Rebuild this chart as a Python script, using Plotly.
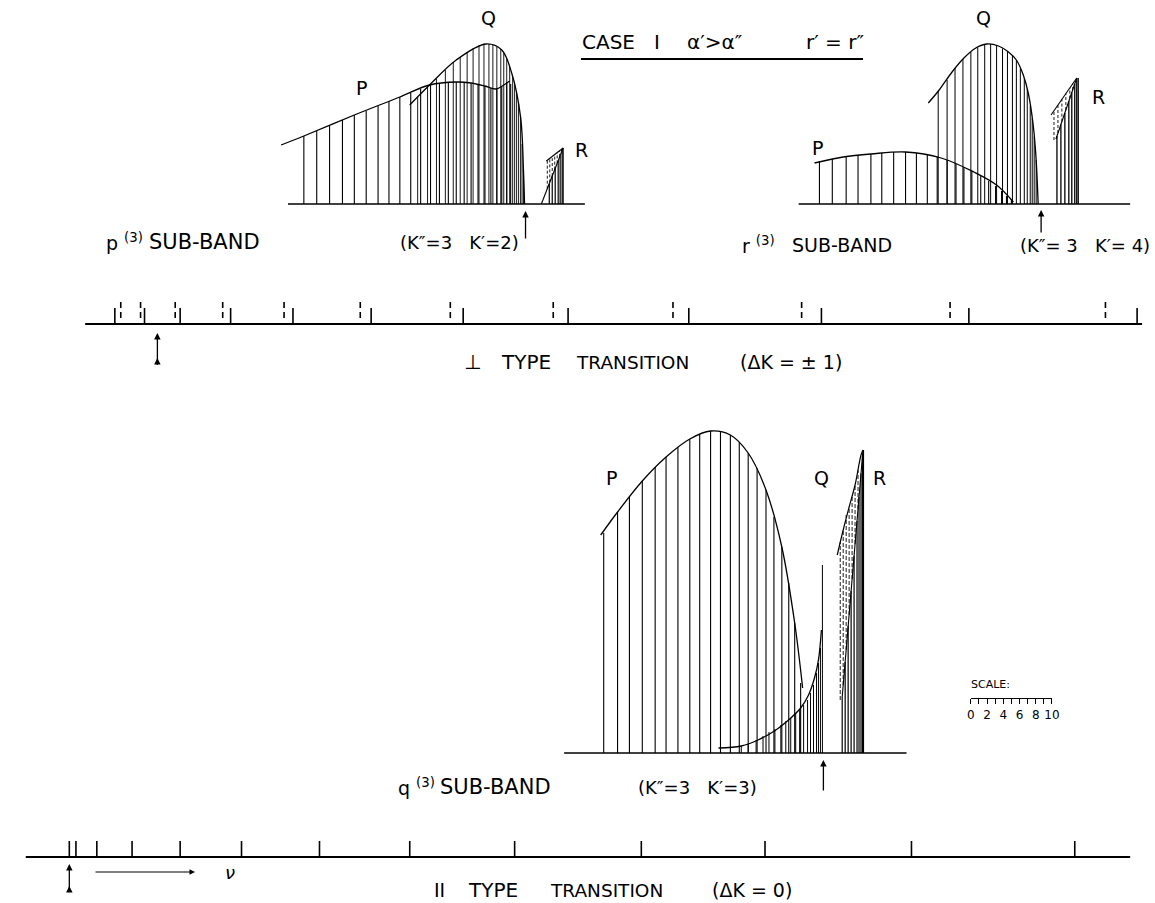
import plotly.graph_objects as go

W, H = 1155, 903
FONT = "DejaVu Sans"

# ---------------- DATA (x = offset from band origin, h = intensity) ----------------
# p(3) sub-band  (K''=3, K'=2)
p3_P_x = [-224, -211, -198, -185, -173, -161, -149, -138, -127, -116, -106, -96, -87, -78,
          -70, -62, -55, -48, -41, -35, -29, -24, -19, -15]
p3_P_h = [68, 73, 79, 84, 89, 93, 98, 103, 107, 111, 115, 119, 120, 121, 122, 122, 121, 120,
          118, 116, 115, 118, 122, 120]
p3_Penv_x = [-247, -224, -173, -127, -97, -70, -55, -41, -30, -22, -16]
p3_Penv_h = [59, 68, 89, 107, 119, 122, 121, 118, 115, 119, 123]
p3_Q_x = [-109, -99, -90, -81, -73, -66, -59, -53, -47, -42, -37, -33, -29, -25, -22, -19,
          -16, -13, -11, -9, -7, -5, -3.5, -2]
p3_Q_h = [107, 117, 125, 134, 142, 147, 152, 156, 159, 160, 160, 159, 157, 155, 151, 145,
          137, 127, 120, 111, 100, 87, 60, 35]
p3_Qenv_x = [-117, -97, -70, -40, -24, -14, -5, -2, -1]
p3_Qenv_h = [99, 119, 144, 160, 154, 131, 87, 31, 0]
p3_R_x = [24, 27, 30, 33, 35, 37, 38]
p3_R_h = [20, 28, 36, 43, 48, 53.5, 56]
p3_Rd_x = [22, 24.5, 27, 29.5, 32, 34.5, 36.5]
p3_Rd_top = [43.8, 45.7, 47.6, 49.5, 51.4, 53.3, 54.9]
p3_Rd_bot = [15.3, 21.6, 28, 34.4, 40.7, 47.1, 52.2]
p3_Rlow_x, p3_Rlow_h = [16, 38], [0, 56]
p3_Rtop_x, p3_Rtop_h = [21, 38], [43, 56]
p3_base = [-240, 60]

# r(3) sub-band  (K''=3, K'=4)
r3_P_x = [-224, -211, -197, -185, -172, -161, -149, -137, -126, -115, -105, -95, -86, -78,
          -70, -61, -53, -46, -40, -35, -30]
r3_P_h = [43, 45, 47, 49, 50, 51, 52, 52, 51, 50, 47.5, 44, 40, 37, 33, 28, 23, 18, 13, 8, 4]
r3_Penv_x = [-229, -200, -172, -137, -101, -68, -45, -28]
r3_Penv_h = [41, 47, 50, 52, 46, 32, 19, 2]
r3_Q_x = [-104, -95, -87, -79, -71, -64, -57, -51, -45, -39, -34, -29, -25, -21, -17, -14,
          -11, -9, -7, -5]
r3_Q_h = [113, 124, 136, 145, 152, 156.5, 159.5, 160, 158.5, 155.5, 152.5, 148, 144, 135.5,
          125.5, 115, 98, 85.5, 67.5, 44]
r3_Qenv_x = [-114, -103, -90, -78, -66, -55, -43, -33, -25, -18, -13, -8, -5, -3]
r3_Qenv_h = [101, 114, 132, 146, 156, 160, 158, 152, 144, 129, 111, 79, 44, 0]
r3_R_x = [16, 20, 24, 28, 31, 34, 36, 37.5]
r3_R_h = [68, 79.5, 91, 103, 111.5, 120, 126, 126]
r3_Rd_x = [13, 17, 21, 25, 29, 32]
r3_Rd_top = [93.3, 99, 104.7, 110.3, 116, 120.3]
r3_Rd_bot = [64, 71, 82.4, 94, 105.4, 114]
r3_Rlow_x, r3_Rlow_h = [15, 36], [65, 126]
r3_Rtop_x, r3_Rtop_h = [10, 36], [89, 126]
r3_base = [-245, 90]

# q(3) sub-band  (K''=3, K'=3)
q3_P_x = [-222, -208, -196, -183, -170, -159, -147, -135, -125, -114, -104, -94, -85, -76,
          -67, -58, -50, -42, -35, -29, -23]
q3_P_h = [220, 241, 256, 272, 286, 296, 306, 314, 319, 322, 321, 318, 311, 300, 285, 263,
          236, 206, 170, 130, 70]
q3_Penv_x = [-225, -208, -183, -159, -135, -114, -94, -76, -58, -42, -29, -21]
q3_Penv_h = [218, 241, 272, 296, 314, 322, 318, 300, 263, 206, 130, 65]
q3_Q_x = [-83, -76, -68, -61, -55, -49, -43, -38, -33, -28, -24, -20, -16, -13, -10, -7,
          -5, -3, -1]
q3_Q_h = [7, 9, 13, 17, 21, 24, 28, 32, 35, 40, 44, 48, 53, 60, 68, 80, 90, 105, 188]
q3_Qenv_x = [-106, -83, -66, -48, -33, -23, -15, -9, -5, -2]
q3_Qenv_h = [5, 7, 13, 23, 35, 45, 58, 75, 93, 123]
q3_R_x = [19, 22, 25, 28, 31, 34, 36, 38, 39.5, 40.5]
q3_R_h = [56, 91, 127, 162, 197, 232, 256, 279.5, 297, 303]
q3_Rd_x = [17, 20, 23, 26, 29, 32, 35]
q3_Rd_top = [211, 223, 238, 246, 257, 268, 283]
q3_Rd_bot = [53, 68, 103, 138, 174, 209, 244]
q3_Rtop_x = [14, 20, 26, 32, 38, 40]
q3_Rtop_h = [198, 223, 246, 268, 298, 303]
q3_Rlow_x, q3_Rlow_h = [19, 40], [56, 303]
q3_base = [-262, 84]

# perpendicular-type transition: sub-band origins (solid) and dashed companions
perp_solid = [-43, -13, 23, 74, 137, 216, 309, 415, 537, 671, 820, 990]
perp_dashed = [-37, -17, 18, 66, 128, 205, 296, 400, 521, 651, 801, 958]
perp_base = [-73, 995]
# parallel-type transition: sub-band origins
par_ticks = [0, 6.7, 27.8, 63.4, 112, 174, 252.8, 344, 450, 578, 703, 851, 1016]
par_base = [-44, 1072]

# scale ruler
scale_ticks = list(range(0, 11))
scale_labels = ["0", "", "2", "", "4", "", "6", "", "8", "", "10"]

# ---------------- LAYOUT CONSTANTS ----------------
panels = {  # axis index: (pixel x of band origin, pixel y of baseline)
    1: (527, 204),   # p(3)
    2: (1048, 204),  # r(3)
    3: (828, 753),   # q(3)
    4: (155, 324),   # perpendicular transition axis
    5: (66, 857),    # parallel transition axis
}

fig = go.Figure()


def ax(i):
    return ("x" if i == 1 else f"x{i}"), ("y" if i == 1 else f"y{i}")


def add_line(i, xs, ys, width=1.0, dash=None, shape="linear"):
    xa, ya = ax(i)
    fig.add_trace(go.Scatter(x=xs, y=ys, xaxis=xa, yaxis=ya, mode="lines",
                             line=dict(color="black", width=width, dash=dash, shape=shape,
                                       smoothing=1.0),
                             hoverinfo="skip", showlegend=False))


def add_sticks(i, xs, tops, bots=None, width=1.0, dash=None):
    X, Y = [], []
    for k, x in enumerate(xs):
        b = 0 if bots is None else bots[k]
        X += [x, x, None]
        Y += [b, tops[k], None]
    add_line(i, X, Y, width=width, dash=dash)


# p(3)
add_line(1, p3_base, [0, 0], width=1.6)
add_sticks(1, p3_P_x, p3_P_h, width=1.1)
add_sticks(1, p3_Q_x, p3_Q_h, width=0.9)
add_line(1, p3_Penv_x, p3_Penv_h, width=1.3, shape="spline")
add_line(1, p3_Qenv_x, p3_Qenv_h, width=1.3, shape="spline")
add_sticks(1, p3_R_x, p3_R_h, width=1.2)
add_sticks(1, p3_Rd_x, p3_Rd_top, p3_Rd_bot, width=0.9, dash="3px,2px")
add_line(1, p3_Rlow_x, p3_Rlow_h, width=1.1)
add_line(1, p3_Rtop_x, p3_Rtop_h, width=1.1)

# r(3)
add_line(2, r3_base, [0, 0], width=1.6)
add_sticks(2, r3_P_x, r3_P_h, width=1.1)
add_sticks(2, r3_Q_x, r3_Q_h, width=1.0)
add_line(2, r3_Penv_x, r3_Penv_h, width=1.3, shape="spline")
add_line(2, r3_Qenv_x, r3_Qenv_h, width=1.3, shape="spline")
add_sticks(2, r3_R_x, r3_R_h, width=1.3)
add_sticks(2, r3_Rd_x, r3_Rd_top, r3_Rd_bot, width=0.9, dash="3px,2px")
add_line(2, r3_Rlow_x, r3_Rlow_h, width=1.1)
add_line(2, r3_Rtop_x, r3_Rtop_h, width=1.1)

# q(3)
add_line(3, q3_base, [0, 0], width=1.6)
add_sticks(3, q3_P_x, q3_P_h, width=1.1)
add_sticks(3, q3_Q_x, q3_Q_h, width=1.0)
add_line(3, q3_Penv_x, q3_Penv_h, width=1.3, shape="spline")
add_line(3, q3_Qenv_x, q3_Qenv_h, width=1.3, shape="spline")
add_sticks(3, q3_R_x, q3_R_h, width=1.2)
add_sticks(3, q3_Rd_x, q3_Rd_top, q3_Rd_bot, width=0.9, dash="4px,2px")
add_line(3, q3_Rtop_x, q3_Rtop_h, width=1.2, shape="spline")
add_line(3, q3_Rlow_x, q3_Rlow_h, width=1.1)

# perpendicular axis
add_line(4, perp_base, [0, 0], width=2.0)
add_sticks(4, perp_solid, [16] * len(perp_solid), width=1.6)
add_sticks(4, perp_dashed, [24] * len(perp_dashed), [6] * len(perp_dashed), width=1.6,
           dash="6px,4px")

# parallel axis
add_line(5, par_base, [0, 0], width=2.0)
add_sticks(5, par_ticks, [16] * len(par_ticks), width=1.6)

# scale ruler axis (index 6)
fig.add_trace(go.Scatter(x=[0, 10], y=[0, 0], xaxis="x6", yaxis="y6", mode="lines",
                         line=dict(color="rgba(0,0,0,0)"), hoverinfo="skip",
                         showlegend=False))

layout_axes = {}
for i, (x0, base) in panels.items():
    xa = "xaxis" if i == 1 else f"xaxis{i}"
    ya = "yaxis" if i == 1 else f"yaxis{i}"
    layout_axes[xa] = dict(domain=[0, 1], range=[-x0, W - x0], visible=False,
                           anchor=ax(i)[1], fixedrange=True)
    layout_axes[ya] = dict(domain=[0, 1], range=[base - H, base], visible=False,
                           anchor=ax(i)[0], fixedrange=True)

layout_axes["xaxis6"] = dict(domain=[977 / W, 1059 / W], range=[0, 10], anchor="y6",
                             showline=True, linecolor="black", linewidth=1.2,
                             ticks="outside", ticklen=5, tickwidth=1, tickcolor="black",
                             tickvals=scale_ticks, ticktext=scale_labels,
                             tickfont=dict(family=FONT, size=12, color="black"),
                             showgrid=False, zeroline=False, fixedrange=True)
layout_axes["yaxis6"] = dict(domain=[(H - 698) / H, (H - 690) / H], range=[0, 1],
                             visible=False, anchor="x6", fixedrange=True)

# ---------------- TEXT / ANNOTATIONS ----------------
ann = []


def label(text, x, y, size=18, xanchor="center"):
    ann.append(dict(text=text, x=x / W, y=1 - y / H, xref="paper", yref="paper",
                    showarrow=False, xanchor=xanchor, yanchor="middle",
                    font=dict(family=FONT, size=size, color="black")))


def arrow(x, y_tail, y_head, width=1.3, head=2, x_tail=None):
    xt = x if x_tail is None else x_tail
    ann.append(dict(text="", x=x / W, y=1 - y_head / H, ax=xt - x, ay=y_tail - y_head,
                    xref="paper", yref="paper", font=dict(size=10),
                    showarrow=True, arrowhead=head, arrowsize=1, arrowwidth=width,
                    arrowcolor="black"))


# title
label("CASE   I", 623, 42, 20)
label("α′>α″", 718, 42, 20)
label("r′ = r″", 840, 42, 20)

# p(3) panel
label("P", 361, 88, 19)
label("Q", 490, 18, 19)
label("R", 584, 150, 19)
label("p <sup>(3)</sup>", 101, 242, 19, "left")
label("SUB-BAND", 203, 242, 21)
label("(K″=3   K′=2)", 460, 242, 18)
arrow(527, 240, 211)

# r(3) panel
label("P", 822, 148, 19)
label("Q", 990, 18, 19)
label("R", 1106, 97, 19)
label("r <sup>(3)</sup>", 744, 245, 19, "left")
label("SUB-BAND", 847, 245, 19)
label("(K″= 3   K′= 4)", 1092, 245, 18)
arrow(1048, 234, 210)

# perpendicular transition
label("⊥", 473, 362, 20)
label("TYPE", 527, 362, 20)
label("TRANSITION", 635, 362, 18.5)
label("(ΔK = ± 1)", 795, 362, 19)
arrow(155, 366, 333)
arrow(155, 366, 358)

# q(3) panel
label("P", 614, 478, 19)
label("Q", 826, 478, 19)
label("R", 885, 478, 19)
label("q <sup>(3)</sup>", 396, 787, 19, "left")
label("SUB-BAND", 497, 787, 21)
label("(K″=3   K′=3)", 701, 787, 18)
arrow(828, 792, 760)

# scale
label("SCALE:", 997, 684, 11)

# parallel transition
label("II", 440, 890, 19)
label("TYPE", 494, 890, 20)
label("TRANSITION", 609, 890, 18.5)
label("(ΔK = 0)", 756, 890, 19)
arrow(66, 893, 864)
arrow(66, 893, 886)
arrow(193, 872, 872, width=1.1, x_tail=92)
label("<i>ν</i>", 228, 872, 18)

shapes = [dict(type="line", xref="paper", yref="paper", x0=583 / W, x1=868 / W,
               y0=1 - 59 / H, y1=1 - 59 / H, line=dict(color="black", width=2))]

fig.update_layout(width=W, height=H, margin=dict(l=0, r=0, t=0, b=0),
                  paper_bgcolor="white", plot_bgcolor="rgba(0,0,0,0)",
                  showlegend=False, annotations=ann, shapes=shapes, **layout_axes)

fig.write_html("out.html", config={"displayModeBar": False},
               post_script="document.body.style.margin='0px';"
                           "document.body.style.overflow='hidden';")
